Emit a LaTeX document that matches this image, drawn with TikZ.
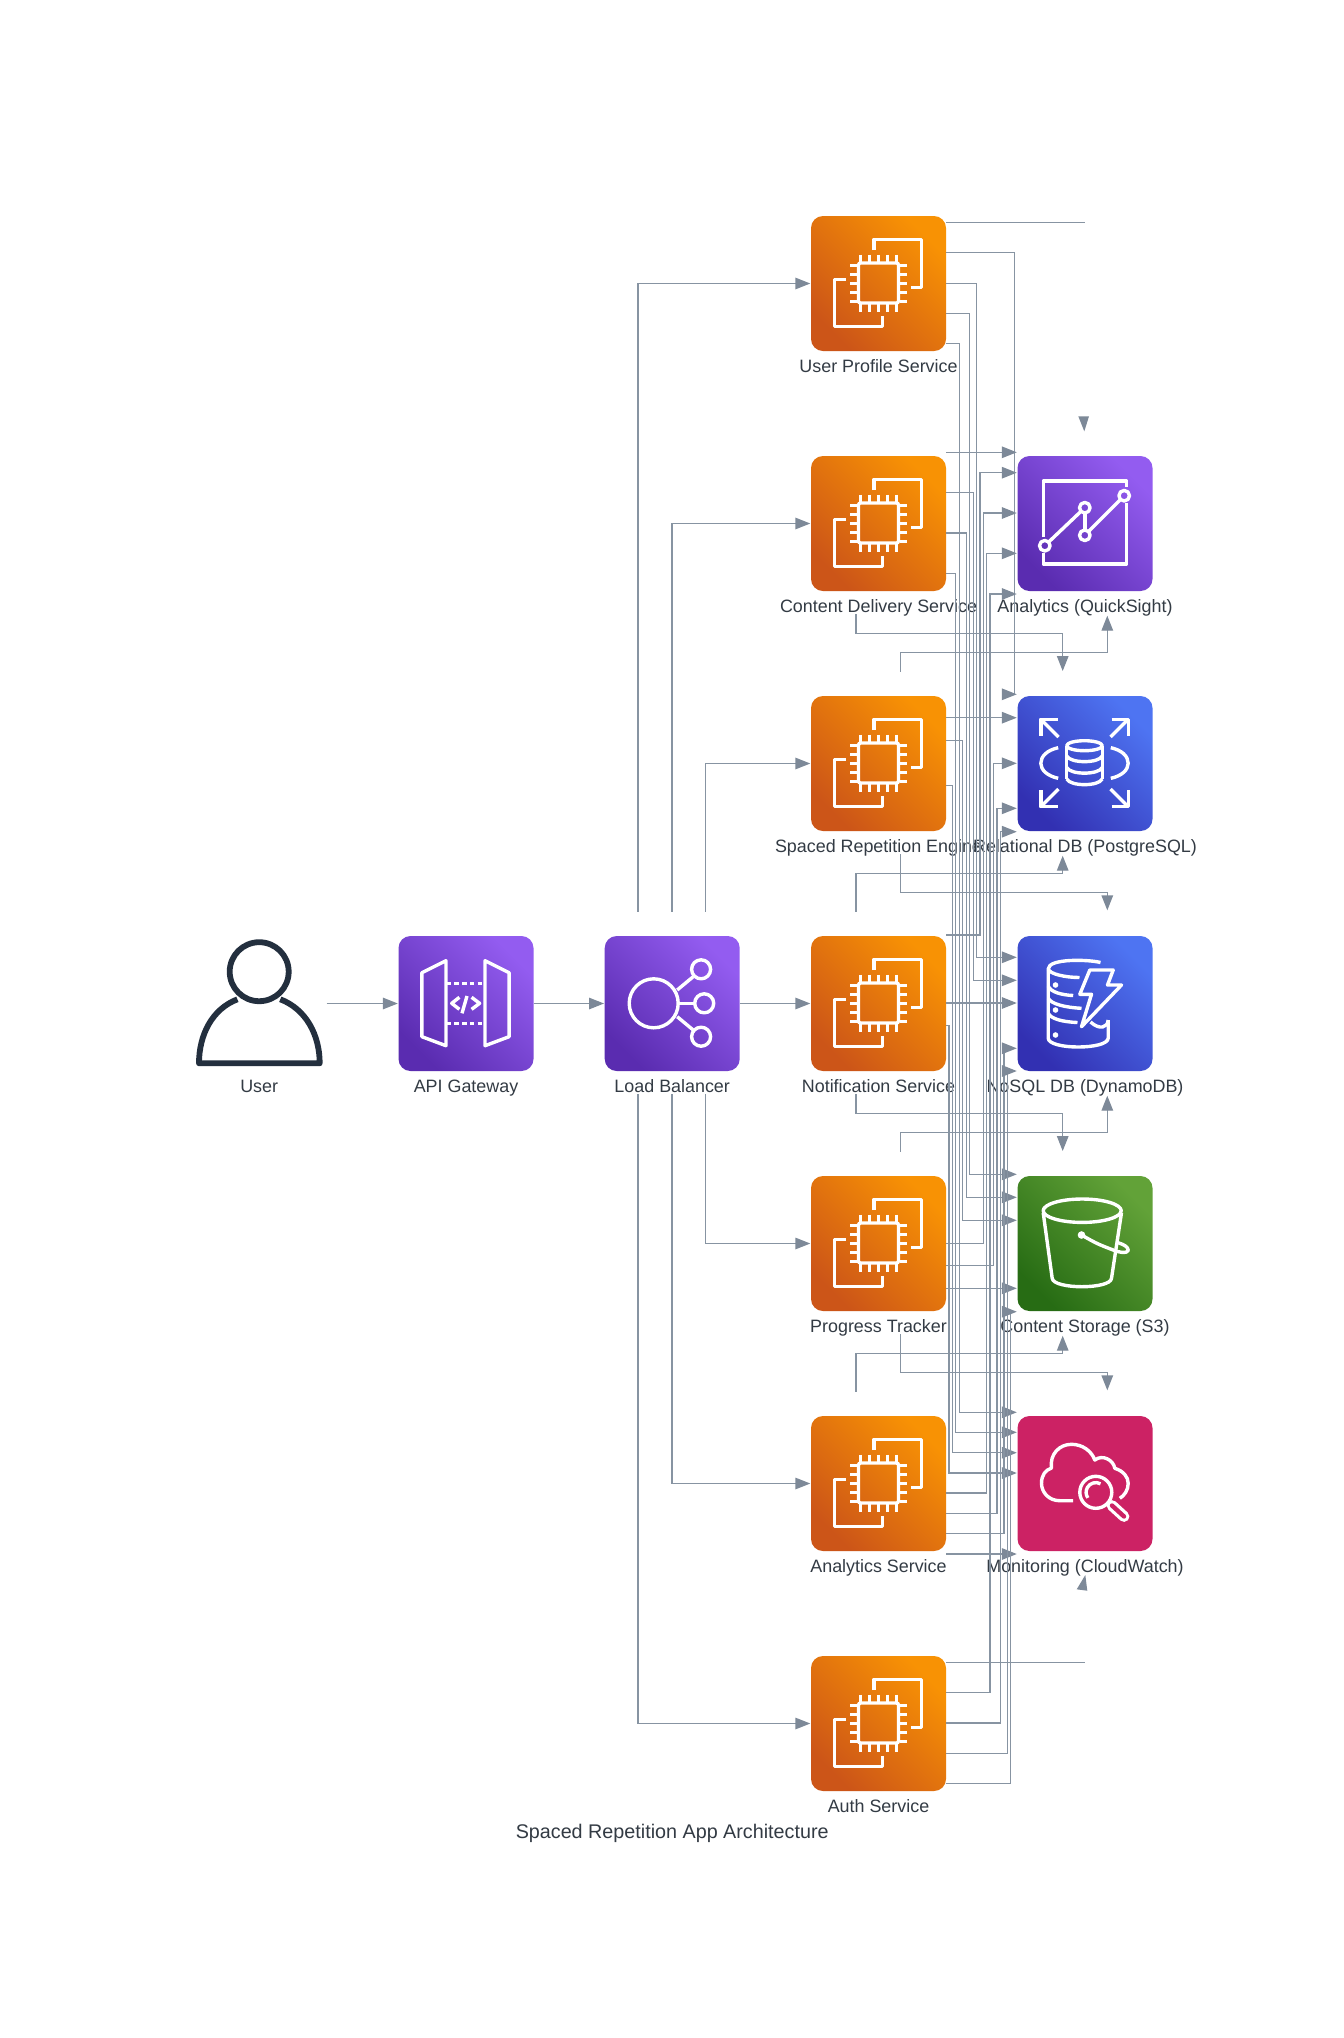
\documentclass[tikz,border=0pt]{standalone}
\usepackage{fontspec}
\setmainfont{Liberation Sans}
\usetikzlibrary{arrows.meta,calc}
\definecolor{connc}{HTML}{8794A2}
\definecolor{arrowc}{HTML}{7D8998}
\definecolor{txtc}{HTML}{333B44}
\definecolor{inkc}{HTML}{232F3E}
\definecolor{cwc}{HTML}{CC2264}
\definecolor{HTMLcompA}{HTML}{CC5518}
\definecolor{HTMLcompB}{HTML}{F89204}
\definecolor{HTMLpurA}{HTML}{5A2CB0}
\definecolor{HTMLpurB}{HTML}{935CF0}
\definecolor{HTMLdbA}{HTML}{3230B2}
\definecolor{HTMLdbB}{HTML}{4E74F2}
\definecolor{HTMLgrA}{HTML}{276C14}
\definecolor{HTMLgrB}{HTML}{62A238}
\tikzset{
  box/.style={minimum size=135pt,inner sep=0pt,outer sep=0pt,rounded corners=12pt},
  computefill/.style={bottom color=HTMLcompA,top color=HTMLcompB,shading angle=-45},
  purplefill/.style={bottom color=HTMLpurA,top color=HTMLpurB,shading angle=-45},
  dbfill/.style={bottom color=HTMLdbA,top color=HTMLdbB,shading angle=-45},
  greenfill/.style={bottom color=HTMLgrA,top color=HTMLgrB,shading angle=-45},
  lbl/.style={anchor=base,text=txtc,font=\fontsize{17.9}{20}\selectfont,inner sep=0pt},
  titlelbl/.style={anchor=base,text=txtc,font=\fontsize{19.75}{22}\selectfont,inner sep=0pt},
  conn/.style={draw=connc,line width=1.4pt},
  tip/.style={-{Triangle[length=15pt,width=11.5pt,color=arrowc]},shorten >=0.7pt},
  icon/.style={draw=white,line width=3.4pt,line join=round,line cap=butt},
}
% from, y0, lane x, to, y1
\newcommand{\routeto}[5]{\draw[conn,tip] (#1.east |- 0,#2) -- (#3,#2) -- (#3,#5) -- (#4.west |- 0,#5);}
\newcommand{\straightto}[3]{\draw[conn,tip] (#1.east |- 0,#2) -- (#3.west |- 0,#2);}
% stub: name, x0, y0, ym, x1, y1
\newcommand{\hop}[6]{\coordinate (#1a) at (#2,#3); \coordinate (#1b) at (#5,#6);
  \draw[conn,tip] (#1a) -- (#2,#4) -- (#5,#4) -- (#1b);}
\newcommand{\ecicon}[1]{\begin{scope}[shift={(#1.north west)}]
  \draw[icon] (63,34) -- (63,23.3) -- (110.7,23.3) -- (110.7,71.3) -- (100,71.3);
  \draw[icon] (34.7,63.3) -- (23.7,63.3) -- (23.7,110.7) -- (71.3,110.7) -- (71.3,100);
  \draw[icon,rounded corners=2pt] (47.5,47) rectangle (87.5,87);
  \foreach \p in {49.3,58.3,67.5,76.5,85.5}{
    \draw[icon,line width=3pt] (\p,38.5) -- (\p,46);
    \draw[icon,line width=3pt] (\p,88) -- (\p,95.5);
    \draw[icon,line width=3pt] (39,\p) -- (46.5,\p);
    \draw[icon,line width=3pt] (88.5,\p) -- (96,\p);
  }
\end{scope}}
\begin{document}
\begin{tikzpicture}[x=1pt,y=-1pt]
\useasboundingbox (0,0) rectangle (1344,2038);
\fill[white] (0,0) rectangle (1344,2038);

% nodes
\node[inner sep=0pt,outer sep=0pt,minimum size=135pt] (user) at (259.2,1003.5) {};
\node[box,purplefill] (api) at (466,1003.5) {};
\node[box,purplefill] (lb) at (672.2,1003.5) {};
\node[box,computefill] (s1) at (878.5,283.5) {};
\node[box,computefill] (s2) at (878.5,523.5) {};
\node[box,computefill] (s3) at (878.5,763.5) {};
\node[box,computefill] (s4) at (878.5,1003.5) {};
\node[box,computefill] (s5) at (878.5,1243.5) {};
\node[box,computefill] (s6) at (878.5,1483.5) {};
\node[box,computefill] (s7) at (878.5,1723.5) {};
\node[box,purplefill] (qs) at (1085,523.5) {};
\node[box,dbfill] (rds) at (1085,763.5) {};
\node[box,dbfill] (ddb) at (1085,1003.5) {};
\node[box,greenfill] (s3b) at (1085,1243.5) {};
\node[box,fill=cwc] (cw) at (1085,1483.5) {};

% labels
\node[lbl] (userl) at (259.2,1092) {User};
\node[lbl] (apil) at (466,1092) {API Gateway};
\node[lbl] (lbl1) at (672.2,1092) {Load Balancer};
\node[lbl] (s1l) at (878.5,372) {User Profile Service};
\node[lbl] (s2l) at (878.5,612) {Content Delivery Service};
\node[lbl] (s3l) at (878.5,852) {Spaced Repetition Engine};
\node[lbl] (s4l) at (878.5,1092) {Notification Service};
\node[lbl] (s5l) at (878.5,1332) {Progress Tracker};
\node[lbl] (s6l) at (878.5,1572) {Analytics Service};
\node[lbl] (s7l) at (878.5,1812) {Auth Service};
\node[lbl] (qsl) at (1085,612) {Analytics (QuickSight)};
\node[lbl] (rdsl) at (1085,852) {Relational DB (PostgreSQL)};
\node[lbl] (ddbl) at (1085,1092) {NoSQL DB (DynamoDB)};
\node[lbl] (s3bl) at (1085,1332) {Content Storage (S3)};
\node[lbl] (cwl) at (1085,1572) {Monitoring (CloudWatch)};
\node[titlelbl] (title) at (672.2,1838) {Spaced Repetition App Architecture};

% icons
\ecicon{s1}\ecicon{s2}\ecicon{s3}\ecicon{s4}\ecicon{s5}\ecicon{s6}\ecicon{s7}

% user
\draw[draw=inkc,line width=5.8pt,line join=round] (259.2,971.7) circle [radius=29.5pt];
\draw[draw=inkc,line width=5.8pt,line join=round] (237.4,999.3) .. controls (212,1009) and (199,1035) .. (199,1063.3) -- (319.7,1063.3) .. controls (319.7,1035) and (306,1009) .. (280.3,999.3);

% API gateway
\begin{scope}[shift={(api.north west)}]
  \draw[icon] (47.5,24.7) -- (23.4,36.7) -- (23.4,100.7) -- (47.5,109.7) -- cycle;
  \draw[icon] (86.5,24.7) -- (110.6,36.7) -- (110.6,100.7) -- (86.5,109.7) -- cycle;
  \draw[icon,dash pattern=on 4.5pt off 3.3pt] (48,47.3) -- (86,47.3);
  \draw[icon,dash pattern=on 4.5pt off 3.3pt] (48,87.3) -- (86,87.3);
  \draw[icon] (60.9,61.3) -- (53.2,67.3) -- (60.9,73.3);
  \draw[icon] (73.1,61.3) -- (81.1,67.3) -- (73.1,73.3);
  \draw[icon] (68.5,60) -- (63.5,77.3);
\end{scope}

% load balancer
\begin{scope}[shift={(lb.north west)}]
  \draw[icon] (49,67.3) circle [radius=24.5pt];
  \draw[icon] (96.4,33.3) circle [radius=9.5pt];
  \draw[icon] (99.5,67.3) circle [radius=9.5pt];
  \draw[icon] (96.4,100.7) circle [radius=9.5pt];
  \draw[icon] (72.5,54) -- (88.5,40.7);
  \draw[icon] (74.6,67.3) -- (89,67.3);
  \draw[icon] (72.5,80.7) -- (88.5,94);
\end{scope}

% QuickSight
\begin{scope}[shift={(qs.north west)}]
  \draw[icon] (25.7,81) -- (25.7,25) -- (109,25) -- (109,31);
  \draw[icon] (109,47) -- (109,108) -- (25.7,108) -- (25.7,97.3);
  \draw[icon] (27.3,89.7) circle [radius=5.3pt];
  \draw[icon] (67.3,51.7) circle [radius=5.3pt];
  \draw[icon] (67.3,79.3) circle [radius=5.3pt];
  \draw[icon] (106.7,39.7) circle [radius=5.3pt];
  \draw[icon,shorten >=5.3pt,shorten <=5.3pt] (27.3,89.7) -- (67.3,51.7);
  \draw[icon,shorten >=5.3pt,shorten <=5.3pt] (67.3,51.7) -- (67.3,79.3);
  \draw[icon,shorten >=5.3pt,shorten <=5.3pt] (67.3,79.3) -- (106.7,39.7);
\end{scope}

% RDS
\begin{scope}[shift={(rds.north west)}]
  \draw[icon] (40,23.3) -- (23.3,23.3) -- (23.3,40);
  \draw[icon] (23.3,23.3) -- (41,41);
  \draw[icon] (94,23.3) -- (110.7,23.3) -- (110.7,40);
  \draw[icon] (110.7,23.3) -- (93,41);
  \draw[icon] (40,110.7) -- (23.3,110.7) -- (23.3,94);
  \draw[icon] (23.3,110.7) -- (41,93);
  \draw[icon] (94,110.7) -- (110.7,110.7) -- (110.7,94);
  \draw[icon] (110.7,110.7) -- (93,93);
  \draw[icon] (40.7,51.7) .. controls (30,54) and (23.3,60) .. (23.3,67.3) .. controls (23.3,74) and (30,80) .. (40.7,82.3);
  \draw[icon] (93.3,51.7) .. controls (104,54) and (110.7,60) .. (110.7,67.3) .. controls (110.7,74) and (104,80) .. (93.3,82.3);
  \draw[icon] (67,49.7) ellipse [x radius=17.8pt,y radius=5pt];
  \draw[icon] (49.2,49.7) -- (49.2,83);
  \draw[icon] (84.8,49.7) -- (84.8,83);
  \draw[icon] (49.2,60) .. controls (53,67.5) and (81,67.5) .. (84.8,60);
  \draw[icon] (49.2,71.5) .. controls (53,79) and (81,79) .. (84.8,71.5);
  \draw[icon] (49.2,83) .. controls (53,90.5) and (81,90.5) .. (84.8,83);
\end{scope}

% DynamoDB
\begin{scope}[shift={(ddb.north west)}]
  \draw[icon] (83,26.5) .. controls (72,23.5) and (30.7,22) .. (30.7,33) -- (30.7,102)
     .. controls (30.7,114) and (90.7,114) .. (90.7,102) -- (90.7,84);
  \draw[icon] (30.7,33) .. controls (32,38) and (48,41.5) .. (62,41.5);
  \draw[icon] (30.7,50) .. controls (33,56) and (44,59) .. (55.7,59.5);
  \draw[icon] (30.7,62) .. controls (33,68) and (48,71.5) .. (64,72.3);
  \draw[icon] (30.7,77) .. controls (33,83) and (46,86) .. (60,86.5);
  \draw[icon] (73,86) .. controls (82,94) and (90,92) .. (90.7,84);
  \draw[icon] (72.3,34) -- (95.7,34) -- (90,49) -- (104,49) -- (64,90.7) -- (74,58.3) -- (62.3,58.3) -- cycle;
  \fill[white] (38,49) circle [radius=2.8pt] (38,74) circle [radius=2.8pt] (38,99) circle [radius=2.8pt];
\end{scope}

% S3
\begin{scope}[shift={(s3b.north west)}]
  \draw[icon] (64.7,34.7) ellipse [x radius=39pt,y radius=11.7pt];
  \draw[icon] (25.7,36.7) -- (34.7,102.3) .. controls (36,113.5) and (93,113.5) .. (94,102.3) -- (104,36.7);
  \fill[white] (64,59) circle [radius=3.8pt];
  \draw[icon] (64,59) .. controls (80,68) .. (97,74.5) .. controls (108,78.5) and (113,75.5) .. (110,72) .. controls (108,69) and (102,67) .. (99.5,66.5);
\end{scope}

% CloudWatch
\begin{scope}[shift={(cw.north west)}]
  \draw[icon] (55.7,84.7) -- (42.3,84.7) .. controls (31,84.7) and (24,76) .. (24,67.3) .. controls (24,59) and (28,54) .. (34,52)
     .. controls (32,38) and (42,28.3) .. (54,28.3) .. controls (65,28.3) and (74,35) .. (77.3,44)
     .. controls (85,38) and (96,44) .. (97.3,52.3) .. controls (106,55) and (110.7,61) .. (110.7,67.3) .. controls (110.7,74) and (107,79.5) .. (102.3,82.3);
  \draw[icon] (78.3,76.3) circle [radius=16pt];
  \draw[icon] (83,67.8) arc [start angle=61,end angle=215,radius=9.7pt];
  \draw[draw=white,line width=10.8pt,line cap=round] (94.5,89.5) -- (106.5,100.5);
  \draw[draw=cwc,line width=4.4pt,line cap=round] (94.5,89.5) -- (106.5,100.5);
\end{scope}

% front flows
\draw[conn,tip] (user.east) -- (api.west);
\draw[conn,tip] (api.east) -- (lb.west);
\draw[conn,tip] (lb.east) -- (s4.west);
\coordinate (lbu1) at (638,911.7);
\coordinate (lbu2) at (672,911.7);
\coordinate (lbu3) at (705.5,911.7);
\coordinate (lbd1) at (638,1094);
\coordinate (lbd2) at (672,1094);
\coordinate (lbd3) at (705.5,1094);
\draw[conn,tip] (lbu1) |- (s1.west);
\draw[conn,tip] (lbu2) |- (s2.west);
\draw[conn,tip] (lbu3) |- (s3.west);
\draw[conn,tip] (lbd3) |- (s5.west);
\draw[conn,tip] (lbd2) |- (s6.west);
\draw[conn,tip] (lbd1) |- (s7.west);

% service to store: User Profile
\draw[conn] (s1.east |- 0,222.3) -- (qs.north |- 0,222.3);
\routeto{s1}{252.3}{1014.3}{rds}{694.3}
\routeto{s1}{283.3}{976.3}{ddb}{957.3}
\routeto{s1}{313.7}{969.7}{s3b}{1174.3}
\routeto{s1}{343.7}{959.7}{cw}{1412.3}
% Content Delivery
\straightto{s2}{452.3}{qs}
\routeto{s2}{492.7}{973.3}{ddb}{980.3}
\routeto{s2}{533}{966.3}{s3b}{1197.3}
\routeto{s2}{573.7}{955.7}{cw}{1432.3}
% Spaced Repetition
\straightto{s3}{717.7}{rds}
\routeto{s3}{740.3}{962.7}{s3b}{1220.3}
\routeto{s3}{785.7}{952.3}{cw}{1452.7}
% Notification
\routeto{s4}{935}{980}{qs}{472.7}
\straightto{s4}{1003}{ddb}
\routeto{s4}{1025.7}{949}{cw}{1473}
% Progress Tracker
\routeto{s5}{1243.3}{983.3}{qs}{513}
\routeto{s5}{1265.7}{993.3}{rds}{763.3}
\straightto{s5}{1288.3}{s3b}
% Analytics Service
\routeto{s6}{1493}{986.7}{qs}{553.3}
\routeto{s6}{1513.3}{997}{rds}{808.3}
\routeto{s6}{1533.7}{1004}{ddb}{1048.3}
\straightto{s6}{1554}{cw}
% Auth
\draw[conn] (s7.east |- 0,1662.3) -- (cw.south |- 0,1662.3);
\routeto{s7}{1692.7}{990}{qs}{594}
\routeto{s7}{1723}{1000.3}{rds}{831.7}
\routeto{s7}{1753.3}{1007.3}{ddb}{1071}
\routeto{s7}{1783.7}{1010.7}{s3b}{1311.7}

% stubs between rows
\hop{ha}{856}{614}{633.7}{1062.7}{671.7}
\hop{hb}{900.7}{671.7}{652.7}{1107.3}{615}
\hop{hc}{856}{911.7}{873.3}{1062.7}{855}
\hop{hd}{900.7}{854}{892.7}{1107.3}{911}
\hop{he}{856}{1094.3}{1113.7}{1062.7}{1151.7}
\hop{hf}{900.7}{1151.7}{1132.7}{1107.3}{1095}
\hop{hg}{856}{1391.7}{1353.3}{1062.7}{1335}
\hop{hh}{900.7}{1334}{1372.7}{1107.3}{1391}

% detached arrowheads
\fill[arrowc] (1084.3,431.3) -- (1078.3,416.3) -- (1089,416.3) -- cycle;
\fill[arrowc] (1085.3,1575) -- (1076.7,1589.3) -- (1087.3,1590.7) -- cycle;
\end{tikzpicture}
\end{document}
